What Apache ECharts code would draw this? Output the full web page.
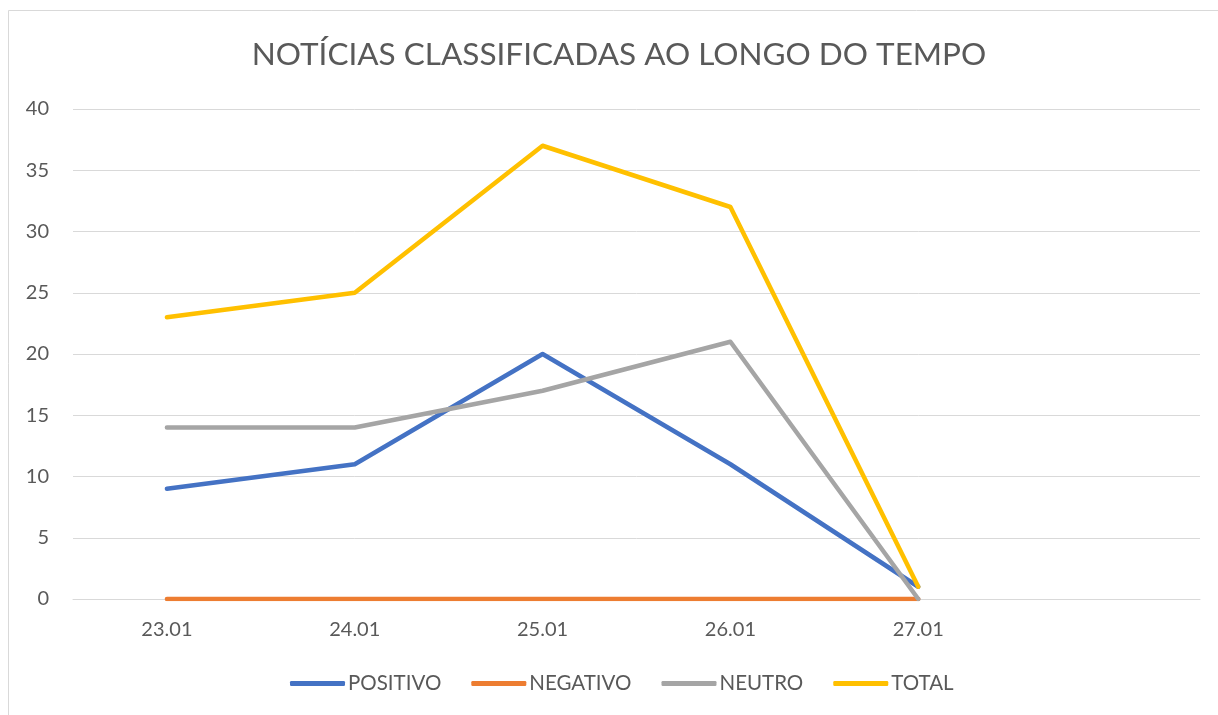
<!DOCTYPE html>
<html>
<head>
<meta charset="utf-8">
<style>
  html, body { margin: 0; padding: 0; background: #fff; }
  #chart { width: 1218px; height: 715px; }
</style>
<script src="https://cdn.jsdelivr.net/npm/echarts@6/dist/echarts.min.js"></script>
</head>
<body>
<div id="chart"></div>
<script>
// dates (last slot is empty, as in the original sheet)
const days = ['23.01', '24.01', '25.01', '26.01', '27.01', '']
const positivo = [9, 11, 20, 11, 1]
const negativo = [0, 0, 0, 0, 0]
const neutro = [14, 14, 17, 21, 0]
const total = [23, 25, 37, 32, 1]

const textColor = '#595959'
const font = 'Lato'

function lineSeries(name, data, color) {
  return {
    name: name,
    type: 'line',
    data: data,
    symbol: 'none',
    lineStyle: { color: color, width: 4.5, cap: 'round', join: 'round' },
    itemStyle: { color: color },
    animation: false
  }
}

const chart = echarts.init(document.getElementById('chart'))
chart.setOption({
  backgroundColor: '#fff',
  graphic: [{
    type: 'rect',
    shape: { x: 8.5, y: 10.5, width: 1260, height: 760 },
    style: { fill: 'none', stroke: '#d9d9d9', lineWidth: 1 },
    silent: true
  }],
  title: {
    text: 'NOTÍCIAS CLASSIFICADAS AO LONGO DO TEMPO',
    left: 614,
    top: 34,
    textAlign: 'center',
    textStyle: { color: textColor, fontFamily: font, fontSize: 31.5, fontWeight: 'normal' }
  },
  grid: { left: 73, right: 18, top: 109, bottom: 116 },
  legend: {
    left: 290,
    top: 673,
    padding: 0,
    icon: 'roundRect',
    itemWidth: 55,
    itemHeight: 5,
    itemGap: 30,
    textStyle: { color: textColor, fontFamily: font, fontSize: 20.5, padding: [0, 0, 0, -2] },
    data: ['POSITIVO', 'NEGATIVO', 'NEUTRO', 'TOTAL']
  },
  xAxis: {
    type: 'category',
    data: days,
    boundaryGap: true,
    axisLine: { lineStyle: { color: '#d9d9d9', width: 1 } },
    axisTick: { show: false },
    axisLabel: { color: textColor, fontFamily: font, fontSize: 20, margin: 21 }
  },
  yAxis: {
    type: 'value',
    min: 0,
    max: 40,
    interval: 5,
    axisLine: { show: false },
    axisTick: { show: false },
    splitLine: { lineStyle: { color: '#d9d9d9', width: 1 } },
    axisLabel: { color: textColor, fontFamily: font, fontSize: 20, margin: 24 }
  },
  series: [
    lineSeries('POSITIVO', positivo, '#4472C4'),
    lineSeries('NEGATIVO', negativo, '#ED7D31'),
    lineSeries('NEUTRO', neutro, '#A5A5A5'),
    lineSeries('TOTAL', total, '#FFC000')
  ]
})
</script>
</body>
</html>
